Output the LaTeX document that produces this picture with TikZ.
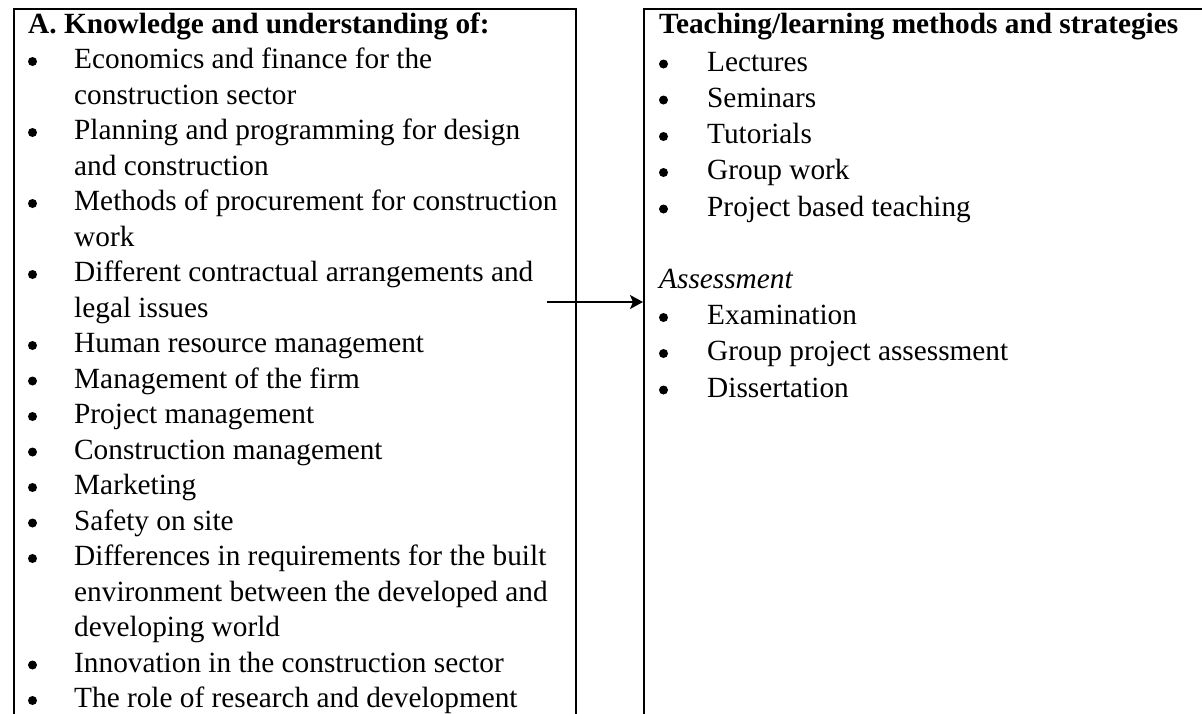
\documentclass[tikz,border=0pt]{standalone}
\usepackage{fontspec}
\setmainfont{Liberation Serif}
\usepackage{tikz}
\usetikzlibrary{arrows.meta}

\begin{document}
\begin{tikzpicture}[x=1pt,y=-1pt,
    body/.style={anchor=base west, inner sep=0pt, font=\fontsize{29.3}{35.5}\selectfont},
    head/.style={body, font=\fontsize{29.3}{35.5}\selectfont\bfseries},
    panel/.style={draw, line width=2pt, anchor=north west, inner sep=0pt,
        minimum width=562pt, minimum height=760pt}]
    \useasboundingbox (0,0) rectangle (1202,713);

    % Boxes
    \node[panel] (knowbox) at (13,8) {};
    \node[panel] (teachbox) at (643,8) {};

    % Knowledge and understanding
    \node[head] (knowhead) at (28,33) {A. Knowledge and understanding of:};
    \node[body] (econ) at (74,68.5) {Economics and finance for the};
    \node[body] (econb) at (74,104) {construction sector};
    \node[body] (plan) at (74,139.5) {Planning and programming for design};
    \node[body] (planb) at (74,175) {and construction};
    \node[body] (proc) at (74,210.5) {Methods of procurement for construction};
    \node[body] (procb) at (74,246) {work};
    \node[body] (contr) at (74,281.5) {Different contractual arrangements and};
    \node[body] (contrb) at (74,317) {legal issues};
    \node[body] (hrm) at (74,352.5) {Human resource management};
    \node[body] (firm) at (74,388) {Management of the firm};
    \node[body] (projm) at (74,423.5) {Project management};
    \node[body] (consm) at (74,459) {Construction management};
    \node[body] (mark) at (74,494.5) {Marketing};
    \node[body] (safe) at (74,530) {Safety on site};
    \node[body] (diff) at (74,565.5) {Differences in requirements for the built};
    \node[body] (diffb) at (74,601) {environment between the developed and};
    \node[body] (diffc) at (74,636.5) {developing world};
    \node[body] (innov) at (74,672) {Innovation in the construction sector};
    \node[body] (rnd) at (74,707.5) {The role of research and development};

    \fill (32.5,61.5) circle[radius=4.5pt];
    \fill (32.5,132.5) circle[radius=4.5pt];
    \fill (32.5,203.5) circle[radius=4.5pt];
    \fill (32.5,274.5) circle[radius=4.5pt];
    \fill (32.5,345.5) circle[radius=4.5pt];
    \fill (32.5,381) circle[radius=4.5pt];
    \fill (32.5,416.5) circle[radius=4.5pt];
    \fill (32.5,452) circle[radius=4.5pt];
    \fill (32.5,487.5) circle[radius=4.5pt];
    \fill (32.5,523) circle[radius=4.5pt];
    \fill (32.5,558.5) circle[radius=4.5pt];
    \fill (32.5,665) circle[radius=4.5pt];
    \fill (32.5,700.5) circle[radius=4.5pt];

    % Teaching/learning and assessment
    \node[head] (teachhead) at (659,33) {Teaching/learning methods and strategies};
    \node[body] (lect) at (707,71) {Lectures};
    \node[body] (semi) at (707,107) {Seminars};
    \node[body] (tuto) at (707,143.5) {Tutorials};
    \node[body] (group) at (707,179.5) {Group work};
    \node[body] (pbt) at (707,216) {Project based teaching};
    \node[body, font=\fontsize{29.3}{35.5}\selectfont\itshape] (assess) at (659,288) {Assessment};
    \node[body] (exam) at (707,324.5) {Examination};
    \node[body] (gpa) at (707,360.5) {Group project assessment};
    \node[body] (diss) at (707,397) {Dissertation};

    \fill (663.5,64) circle[radius=4.5pt];
    \fill (663.5,100) circle[radius=4.5pt];
    \fill (663.5,136.5) circle[radius=4.5pt];
    \fill (663.5,172.5) circle[radius=4.5pt];
    \fill (663.5,209) circle[radius=4.5pt];
    \fill (663.5,317.5) circle[radius=4.5pt];
    \fill (663.5,353.5) circle[radius=4.5pt];
    \fill (663.5,390) circle[radius=4.5pt];

    % Link
    \coordinate (linkstart) at (547,302);
    \draw[line width=1.7pt, -{Stealth[length=13pt, width=14pt, inset=3pt]}]
        (linkstart) -- (linkstart -| teachbox.west);
\end{tikzpicture}
\end{document}
